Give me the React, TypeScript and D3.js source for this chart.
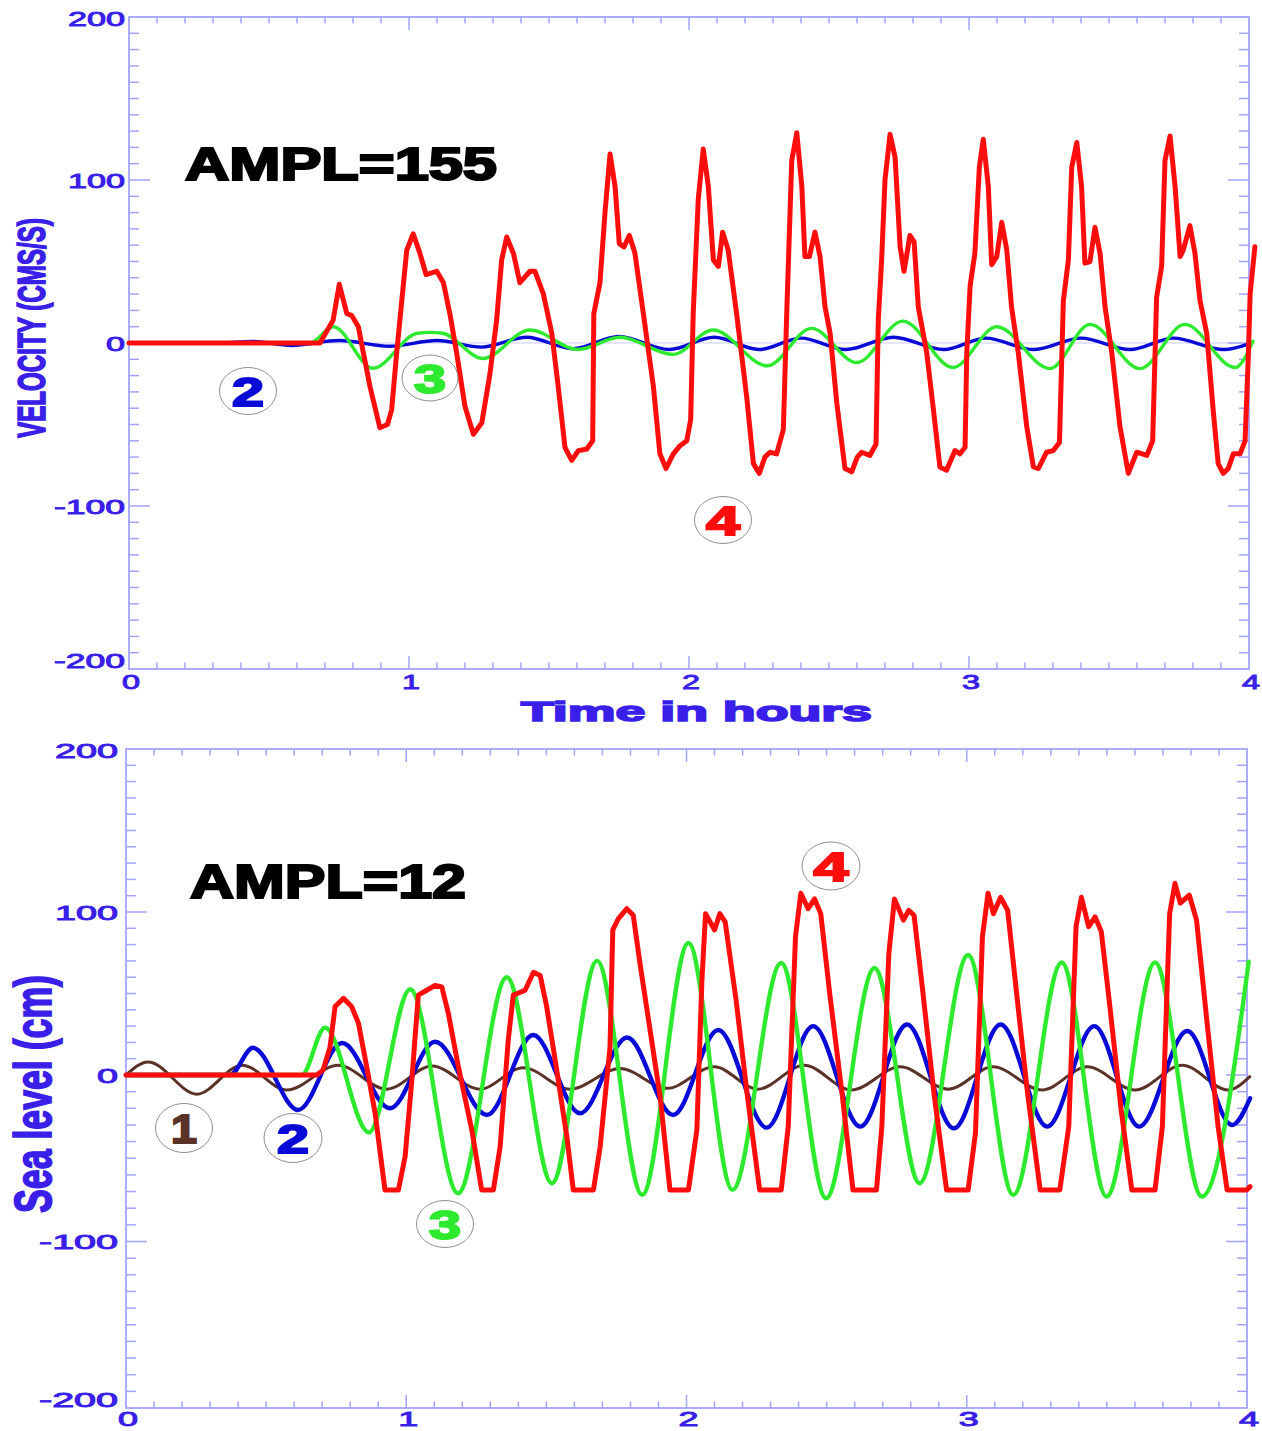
import React from "react";
import * as d3 from "d3";

type Pt = [number, number];

// Axis tick labels
const xTickLabels = [0, 1, 2, 3, 4];
const yTickLabels = [-200, -100, 0, 100, 200];

// Upper panel: velocity (cm/s) vs time (hours)
const velocityBlue: Pt[] = [
  [0, 0], [0.33, 0], [0.44, 1], [0.58, -1.5], [0.75, 1.5], [0.93, -2], [1.1, 1.5], [1.26, -2.5],
  [1.42, 3.5], [1.585, -3.5], [1.75, 4], [1.93, -4], [2.09, 3.5], [2.25, -4], [2.4, 3], [2.56, -4],
  [2.73, 3.5], [2.91, -4], [3.06, 3], [3.23, -4], [3.4, 3], [3.575, -4], [3.73, 3], [3.91, -4], [4.0, -0.5],
];

const velocityGreen: Pt[] = [
  [0, 0], [0.646, 0], [0.729, 10], [0.871, -15.5], [1.03, 6], [1.075, 6.5], [1.12, 6], [1.264, -9.5],
  [1.432, 8], [1.604, -4], [1.754, 3.5], [1.943, -7], [2.086, 8], [2.279, -14], [2.438, 9], [2.599, -12],
  [2.764, 13.4], [2.943, -15], [3.099, 10], [3.289, -15.7], [3.432, 11.4], [3.611, -15.7], [3.771, 11.4],
  [3.95, -15], [4.014, 1],
];

const velocityRed: Pt[] = [
  [0, 0], [0.682, 0], [0.729, 14], [0.751, 36], [0.778, 18], [0.795, 17], [0.819, 10], [0.837, -6],
  [0.861, -27], [0.896, -52], [0.923, -50], [0.938, -41], [0.956, -6], [0.992, 57], [1.015, 67],
  [1.039, 55], [1.061, 42], [1.099, 44], [1.123, 37], [1.146, 18], [1.17, -6], [1.2, -39], [1.23, -56],
  [1.26, -49], [1.289, -19], [1.313, 14], [1.331, 51], [1.349, 65], [1.373, 55], [1.396, 37], [1.432, 44],
  [1.45, 44], [1.48, 30], [1.51, 6], [1.533, -27], [1.557, -64], [1.581, -72], [1.605, -66], [1.635, -65],
  [1.656, -60], [1.66, 18], [1.682, 37], [1.7, 80], [1.718, 116], [1.736, 96], [1.751, 61], [1.768, 59],
  [1.787, 66], [1.807, 55], [1.837, 18], [1.873, -27], [1.896, -68], [1.918, -77], [1.944, -68],
  [1.968, -63], [1.992, -60], [2.006, -47], [2.015, 18], [2.033, 88], [2.051, 119], [2.069, 96],
  [2.087, 51], [2.105, 47], [2.12, 68], [2.14, 57], [2.17, 18], [2.206, -33], [2.23, -74], [2.251, -80],
  [2.271, -70], [2.289, -67], [2.313, -68], [2.337, -53], [2.349, 18], [2.367, 112], [2.385, 129],
  [2.403, 96], [2.414, 53], [2.43, 53], [2.45, 68], [2.468, 53], [2.486, 22], [2.504, 6], [2.528, -37],
  [2.557, -77], [2.581, -79], [2.601, -70], [2.617, -67], [2.646, -69], [2.668, -62], [2.676, 14],
  [2.688, 51], [2.7, 100], [2.718, 128], [2.736, 114], [2.754, 59], [2.768, 44], [2.789, 66], [2.804, 62],
  [2.819, 22], [2.849, -6], [2.873, -41], [2.896, -76], [2.92, -78], [2.95, -66], [2.968, -68],
  [2.986, -64], [2.992, -6], [3.004, 35], [3.021, 55], [3.037, 108], [3.051, 125], [3.069, 96],
  [3.081, 48], [3.099, 53], [3.117, 74], [3.135, 57], [3.152, 22], [3.176, -6], [3.206, -51], [3.23, -76],
  [3.248, -77], [3.277, -67], [3.301, -66], [3.323, -61], [3.337, 26], [3.355, 51], [3.367, 108],
  [3.385, 123], [3.402, 96], [3.414, 49], [3.432, 50], [3.45, 71], [3.468, 55], [3.486, 22], [3.51, -6],
  [3.539, -51], [3.569, -80], [3.599, -67], [3.635, -69], [3.656, -60], [3.67, 28], [3.688, 47],
  [3.7, 112], [3.718, 127], [3.736, 96], [3.754, 53], [3.765, 57], [3.789, 72], [3.807, 55], [3.825, 26],
  [3.849, 6], [3.873, -43], [3.89, -74], [3.908, -80], [3.926, -77], [3.944, -68], [3.968, -68],
  [3.986, -60], [3.998, -6], [4.004, 30], [4.021, 59],
];

// Lower panel: sea level (cm) vs time (hours)
const levelBrown: Pt[] = [
  [0, 0], [0.079, 8], [0.253, -11.5], [0.414, 6], [0.574, -9], [0.757, 6], [0.93, -8.5], [1.092, 5.5],
  [1.263, -8.5], [1.417, 4.5], [1.585, -8.5], [1.763, 4], [1.931, -8], [2.099, 5], [2.255, -8.5],
  [2.42, 6], [2.588, -9], [2.762, 5], [2.934, -8.5], [3.094, 5], [3.269, -9], [3.43, 5], [3.601, -9],
  [3.769, 6], [3.933, -9], [4.01, -1],
];

const levelBlue: Pt[] = [
  [0, 0], [0.371, 0], [0.453, 16.7], [0.614, -21], [0.771, 19.6], [0.942, -20], [1.103, 20.4],
  [1.288, -24], [1.453, 24.5], [1.62, -23], [1.788, 23], [1.952, -24], [2.113, 27.6], [2.286, -31.6],
  [2.452, 30], [2.62, -31], [2.787, 31], [2.954, -32], [3.121, 31], [3.287, -31], [3.455, 30],
  [3.615, -31], [3.787, 27], [3.947, -30], [4.011, -14],
];

const levelGreen: Pt[] = [
  [0, 0], [0.627, 0], [0.71, 29], [0.867, -34.5], [1.014, 52.6], [1.185, -71], [1.359, 60], [1.52, -65],
  [1.681, 70], [1.842, -72], [2.007, 81], [2.164, -69], [2.338, 68.7], [2.498, -74], [2.671, 65.6],
  [2.832, -65], [3.005, 73.6], [3.166, -72], [3.339, 69], [3.499, -73], [3.672, 69], [3.839, -73],
  [4.006, 69.5],
];

const levelRed: Pt[] = [
  [0, 0], [0.681, 0], [0.703, 3], [0.728, 17], [0.746, 42], [0.776, 47], [0.805, 42], [0.829, 32],
  [0.859, 5], [0.889, -23], [0.924, -69], [0.972, -69], [0.996, -49], [1.02, -3], [1.043, 49],
  [1.073, 52], [1.103, 55], [1.127, 54], [1.15, 38], [1.186, 5], [1.234, -33], [1.269, -69], [1.311, -69],
  [1.335, -43], [1.364, 21.5], [1.382, 49], [1.424, 52], [1.454, 63], [1.478, 61], [1.501, 42],
  [1.537, 3], [1.573, -37], [1.596, -69], [1.668, -69], [1.692, -43], [1.727, 17], [1.737, 89],
  [1.757, 96], [1.787, 102], [1.81, 98], [1.834, 68.5], [1.87, 27.6], [1.906, -13], [1.941, -69],
  [2.007, -69], [2.037, -33], [2.055, 58], [2.068, 99], [2.1, 89], [2.119, 99], [2.138, 94], [2.177, 46],
  [2.216, -11], [2.261, -69], [2.338, -69], [2.363, -31], [2.389, 85], [2.408, 111.5], [2.434, 102],
  [2.457, 108], [2.479, 99], [2.511, 50], [2.555, -11], [2.594, -69], [2.678, -69], [2.697, -31],
  [2.722, 74.6], [2.742, 108], [2.774, 95], [2.793, 101], [2.812, 98], [2.844, 50], [2.883, -11],
  [2.928, -69], [3.005, -69], [3.031, -35], [3.056, 85], [3.076, 111.5], [3.095, 99], [3.121, 109],
  [3.146, 101], [3.178, 50], [3.217, -11], [3.262, -69], [3.332, -69], [3.364, -31], [3.39, 91],
  [3.409, 109], [3.435, 91], [3.458, 97], [3.48, 88], [3.512, 40], [3.551, -21], [3.589, -69],
  [3.672, -69], [3.698, -31], [3.724, 99], [3.743, 117.6], [3.762, 105.5], [3.794, 110.4], [3.82, 95],
  [3.859, 29.6], [3.897, -31], [3.929, -69], [4.0, -69], [4.011, -67],
];

const AXIS = "#a3a3ff";
const LABEL = "#3a1fe8";
const RED = "#ff0d0d";
const GREEN = "#2eea2e";
const BLUE = "#0a0ad6";
const BROWN = "#5a3227";

type Series = { data: Pt[]; color: string; width: number; curve: d3.CurveFactory };

type Tag = { text: string; color: string; cx: number; cy: number; rx: number; ry: number; w: number };

type PanelProps = {
  left: number;
  right: number;
  top: number;
  bottom: number;
  yDomain: number[];
  yRange: number[];
  series: Series[];
  zeroLine: boolean;
  labelRight: number;
  digitW: number;
  minusW: number;
  xLabelY: number;
  tags: Tag[];
};

function Panel(p: PanelProps) {
  const x = d3.scaleLinear().domain([0, 4]).range([p.left, p.right]);
  const y = d3.scaleLinear().domain(p.yDomain).range(p.yRange);
  const xt = x.ticks(40);
  const yt = y.ticks(40);
  const isMajorX = (t: number) => Math.abs(t - Math.round(t)) < 1e-6;
  const isMajorY = (v: number) => Math.abs(v % 100) < 1e-6;
  const line = (s: Series) =>
    d3
      .line<Pt>()
      .x((d) => x(d[0]))
      .y((d) => y(d[1]))
      .curve(s.curve)(s.data) || "";
  const yMin = p.yDomain[0];
  const yMax = p.yDomain[p.yDomain.length - 1];
  return (
    <g>
      {p.zeroLine && (
        <line x1={p.left} x2={p.right} y1={y(0)} y2={y(0)} stroke="#c9c9ff" strokeWidth={1.2} />
      )}
      <rect
        x={p.left}
        y={p.top}
        width={p.right - p.left}
        height={p.bottom - p.top}
        fill="none"
        stroke={AXIS}
        strokeWidth={1.8}
      />
      {xt
        .filter((t) => t > 0 && t < 4)
        .map((t) => {
          const len = isMajorX(t) ? 13 : 6.5;
          return (
            <g key={"xt" + t}>
              <line x1={x(t)} x2={x(t)} y1={p.bottom} y2={p.bottom - len} stroke={AXIS} strokeWidth={1.5} />
              <line x1={x(t)} x2={x(t)} y1={p.top} y2={p.top + len} stroke={AXIS} strokeWidth={1.5} />
            </g>
          );
        })}
      {yt
        .filter((v) => v > yMin && v < yMax)
        .map((v) => {
          const len = isMajorY(v) ? 21 : 10;
          return (
            <g key={"yt" + v}>
              <line x1={p.left} x2={p.left + len} y1={y(v)} y2={y(v)} stroke={AXIS} strokeWidth={1.5} />
              <line x1={p.right} x2={p.right - len} y1={y(v)} y2={y(v)} stroke={AXIS} strokeWidth={1.5} />
            </g>
          );
        })}
      {yTickLabels.map((v) => {
        const s = String(v);
        const digits = s.replace("-", "").length;
        const w = digits * p.digitW + (v < 0 ? p.minusW : 0);
        const base = v === yMin ? y(v) - 1 : v === yMax ? y(v) + 9 : y(v) + 7.5;
        return (
          <text
            key={"yl" + v}
            x={p.labelRight}
            y={base}
            textAnchor="end"
            fontFamily="Liberation Sans, Arial, sans-serif"
            fontSize={20}
            fill={LABEL}
            stroke={LABEL}
            strokeWidth={0.9}
            textLength={w}
            lengthAdjust="spacingAndGlyphs"
          >
            {s}
          </text>
        );
      })}
      {xTickLabels.map((t) => (
        <text
          key={"xl" + t}
          x={x(t) + 2}
          y={p.xLabelY}
          textAnchor="middle"
          fontFamily="Liberation Sans, Arial, sans-serif"
          fontSize={20}
          fill={LABEL}
          stroke={LABEL}
          strokeWidth={0.9}
          textLength={p.digitW - 1}
          lengthAdjust="spacingAndGlyphs"
        >
          {t}
        </text>
      ))}
      {p.series.map((s, i) => (
        <path
          key={"s" + i}
          d={line(s)}
          fill="none"
          stroke={s.color}
          strokeWidth={s.width}
          strokeLinejoin="round"
          strokeLinecap="round"
        />
      ))}
      {p.tags.map((t, i) => (
        <g key={"tag" + i}>
          <ellipse cx={t.cx} cy={t.cy} rx={t.rx} ry={t.ry} fill="none" stroke="#8e8e8e" strokeWidth={1} />
          <text
            x={t.cx}
            y={t.cy + 14.5}
            textAnchor="middle"
            fontFamily="Liberation Sans, Arial, sans-serif"
            fontWeight="bold"
            fontSize={41}
            fill={t.color}
            stroke={t.color}
            strokeWidth={2}
            textLength={t.w}
            lengthAdjust="spacingAndGlyphs"
          >
            {t.text}
          </text>
        </g>
      ))}
    </g>
  );
}

export default function App() {
  const topSeries: Series[] = [
    { data: velocityBlue, color: BLUE, width: 3.4, curve: d3.curveMonotoneX },
    { data: velocityGreen, color: GREEN, width: 3.4, curve: d3.curveMonotoneX },
    { data: velocityRed, color: RED, width: 5, curve: d3.curveLinear },
  ];
  const bottomSeries: Series[] = [
    { data: levelBrown, color: BROWN, width: 3, curve: d3.curveMonotoneX },
    { data: levelBlue, color: BLUE, width: 4.4, curve: d3.curveMonotoneX },
    { data: levelGreen, color: GREEN, width: 4.4, curve: d3.curveMonotoneX },
    { data: levelRed, color: RED, width: 5, curve: d3.curveLinear },
  ];
  return (
    <svg
      width={1262}
      height={1431}
      viewBox="0 0 1262 1431"
      style={{ position: "absolute", left: 0, top: 0, background: "#ffffff" }}
    >
      <rect x={0} y={0} width={1262} height={1431} fill="#ffffff" />
      <Panel
        left={129}
        right={1249}
        top={17}
        bottom={669}
        yDomain={[-200, 200]}
        yRange={[669, 17]}
        series={topSeries}
        zeroLine={true}
        labelRight={125}
        digitW={19}
        minusW={14}
        xLabelY={689}
        tags={[
          { text: "2", color: BLUE, cx: 248, cy: 391, rx: 28.5, ry: 23.5, w: 32 },
          { text: "3", color: GREEN, cx: 430, cy: 378, rx: 28, ry: 23, w: 32 },
          { text: "4", color: RED, cx: 723, cy: 520, rx: 28.5, ry: 23.5, w: 34 },
        ]}
      />
      <Panel
        left={126}
        right={1247}
        top={749}
        bottom={1408}
        yDomain={[-200, 0, 200]}
        yRange={[1408, 1075, 749]}
        series={bottomSeries}
        zeroLine={false}
        labelRight={118}
        digitW={21}
        minusW={16}
        xLabelY={1426}
        tags={[
          { text: "1", color: BROWN, cx: 184, cy: 1128, rx: 28.5, ry: 24.5, w: 26 },
          { text: "2", color: BLUE, cx: 293, cy: 1138, rx: 29, ry: 24.5, w: 32 },
          { text: "3", color: GREEN, cx: 445, cy: 1224, rx: 28.5, ry: 23.5, w: 32 },
          { text: "4", color: RED, cx: 831, cy: 866, rx: 29, ry: 24, w: 35 },
        ]}
      />
      <text
        x={185}
        y={180}
        fontFamily="Liberation Sans, Arial, sans-serif"
        fontWeight="bold"
        fontSize={46}
        fill="#000"
        stroke="#000"
        strokeWidth={2.2}
        textLength={312}
        lengthAdjust="spacingAndGlyphs"
      >
        AMPL=155
      </text>
      <text
        x={190}
        y={898}
        fontFamily="Liberation Sans, Arial, sans-serif"
        fontWeight="bold"
        fontSize={48}
        fill="#000"
        stroke="#000"
        strokeWidth={2.2}
        textLength={276}
        lengthAdjust="spacingAndGlyphs"
      >
        AMPL=12
      </text>
      <text
        x={521}
        y={721}
        fontFamily="Liberation Sans, Arial, sans-serif"
        fontWeight="bold"
        fontSize={28}
        fill={LABEL}
        stroke={LABEL}
        strokeWidth={1.6}
        textLength={351}
        lengthAdjust="spacingAndGlyphs"
      >
        Time in hours
      </text>
      <text
        transform="translate(45,328) rotate(-90)"
        textAnchor="middle"
        fontFamily="Liberation Sans, Arial, sans-serif"
        fontWeight="bold"
        fontSize={38}
        fill={LABEL}
        stroke={LABEL}
        strokeWidth={1.6}
        textLength={220}
        lengthAdjust="spacingAndGlyphs"
      >
        VELOCITY (CMS/S)
      </text>
      <text
        transform="translate(51,1094) rotate(-90)"
        textAnchor="middle"
        fontFamily="Liberation Sans, Arial, sans-serif"
        fontWeight="bold"
        fontSize={52}
        fill={LABEL}
        stroke={LABEL}
        strokeWidth={1.8}
        textLength={238}
        lengthAdjust="spacingAndGlyphs"
      >
        Sea level (cm)
      </text>
    </svg>
  );
}
